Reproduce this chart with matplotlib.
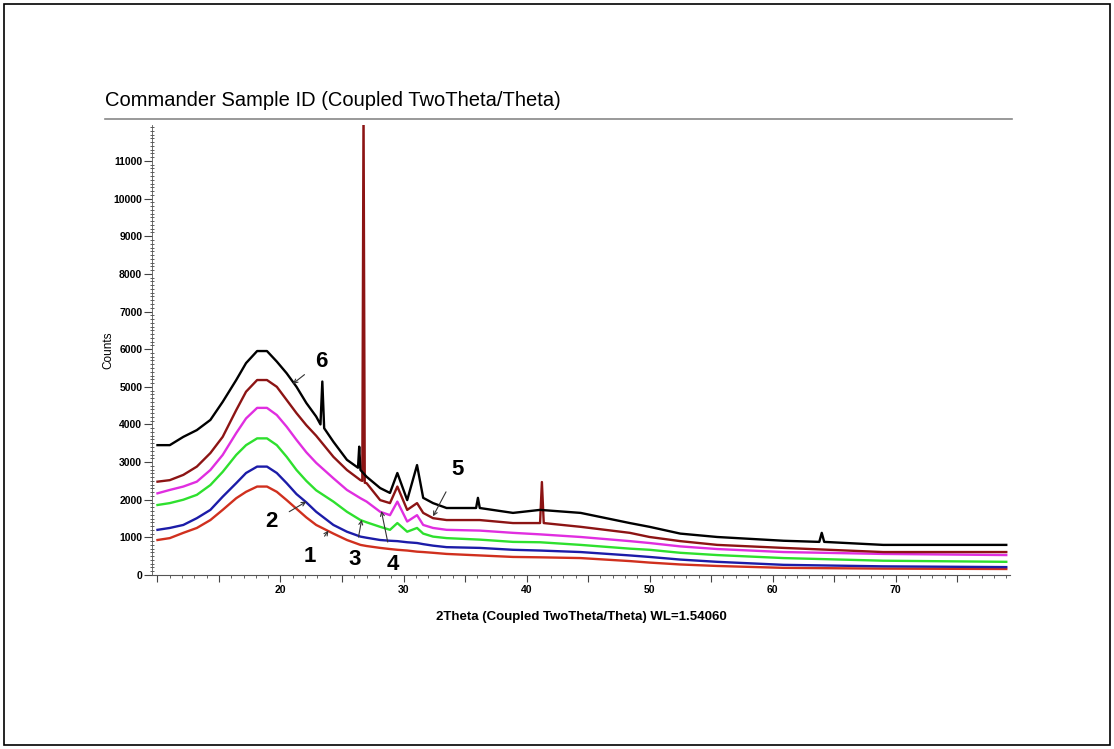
import numpy as np
import matplotlib
matplotlib.use('Agg')
import matplotlib.pyplot as plt
from matplotlib.ticker import MultipleLocator, FuncFormatter
from matplotlib.patches import Rectangle

plt.rcParams['font.family'] = ['Liberation Sans', 'DejaVu Sans']

# 2theta grid shared by all six scans
two_theta = [10, 11, 12.1, 13.2, 14.3, 15.3, 16.4, 17.2, 18.1, 18.9, 19.7, 20.5, 21.3, 22.1,
             22.9, 24.3, 25.4, 26.5, 27.0, 28.1, 28.9, 29.5, 30.3, 31.1, 31.6, 32.4, 33.5,
             36.2, 38.9, 41.1, 44.4, 48.4, 50, 52.5, 55.5, 60.9, 69, 79]

counts_1 = [930, 980, 1120, 1250, 1460, 1730, 2040, 2210, 2350, 2350, 2210, 1990, 1760, 1530,
            1330, 1100, 930, 800, 770, 720, 690, 670, 650, 620, 610, 590, 560,
            520, 480, 470, 450, 370, 330, 280, 240, 190, 170, 160]
counts_2 = [1200, 1250, 1330, 1510, 1730, 2080, 2440, 2710, 2880, 2880, 2710, 2440, 2150, 1930,
            1680, 1330, 1150, 1020, 990, 930, 910, 900, 870, 850, 820, 780, 740,
            720, 670, 650, 610, 520, 480, 410, 350, 270, 230, 210]
counts_3 = [1860, 1910, 2000, 2130, 2390, 2740, 3190, 3450, 3630, 3630, 3450, 3140, 2790, 2500,
            2250, 1950, 1680, 1460, 1400, 1280, 1200, 1380, 1150, 1250, 1100, 1020, 980,
            940, 880, 870, 800, 700, 670, 590, 530, 450, 380, 350]
counts_4 = [2170, 2260, 2350, 2480, 2790, 3190, 3770, 4160, 4440, 4440, 4250, 3940, 3590, 3260,
            2980, 2570, 2260, 2040, 1950, 1680, 1590, 1950, 1420, 1590, 1330, 1250, 1200,
            1180, 1120, 1080, 1010, 900, 850, 760, 690, 610, 560, 530]
counts_5 = [2480, 2520, 2660, 2880, 3240, 3670, 4380, 4870, 5180, 5180, 5000, 4650, 4300, 3980,
            3700, 3140, 2790, 2520, 2440, 1990, 1910, 2350, 1730, 1910, 1650, 1510, 1460,
            1460, 1380, 1380, 1280, 1120, 1010, 900, 800, 720, 610, 610]
counts_6 = [3450, 3450, 3670, 3850, 4120, 4600, 5180, 5630, 5950, 5950, 5670, 5360, 5000, 4570,
            4210, 3540, 3060, 2790, 2610, 2310, 2180, 2710, 1990, 2920, 2050, 1910, 1780,
            1780, 1650, 1730, 1650, 1380, 1280, 1100, 1010, 910, 800, 800]

# sharp reflections (extra points merged into the scans)
peaks_5_x = [26.65, 26.75, 26.85, 41.25, 41.4]
peaks_5_y = [2500, 12500, 2450, 2470, 1380]
peaks_6_x = [23.25, 23.4, 23.55, 26.3, 26.4, 35.9, 36.05, 63.8, 64.0, 64.2]
peaks_6_y = [4000, 5140, 3900, 2850, 3410, 1780, 2050, 880, 1120, 880]

colors = ['#d0301e', '#1c1ca8', '#2ee02e', '#e02ee0', '#8c1414', '#000000']
labels = ['1', '2', '3', '4', '5', '6']
label_text = [(22.4, 480), (19.3, 1410), (26.0, 400), (29.1, 270), (34.4, 2790), (23.3, 5670)]
label_tip = [(23.9, 1180), (22.1, 1950), (26.6, 1470), (28.2, 1700), (32.4, 1560), (21.0, 5080)]

fig = plt.figure(figsize=(11.14, 7.49), dpi=100)
ax = fig.add_axes([0.1364, 0.2323, 0.7702, 0.6008])

series = [(counts_1, [], []), (counts_2, [], []), (counts_3, [], []), (counts_4, [], []),
          (counts_5, peaks_5_x, peaks_5_y), (counts_6, peaks_6_x, peaks_6_y)]
for (ys, px, py), c in zip(series, colors):
    x = np.array(two_theta + px, dtype=float)
    y = np.array(ys + py, dtype=float)
    order = np.argsort(x)
    ax.plot(x[order], y[order], color=c, lw=1.7)

for lab, t, tip in zip(labels, label_text, label_tip):
    ax.annotate(lab, xy=tip, xytext=t, fontsize=16, fontweight='bold', ha='center', va='center',
                arrowprops=dict(arrowstyle='->', color='#333333', lw=0.8, shrinkA=7, shrinkB=0,
                                mutation_scale=7))

ax.set_xlim(9.55, 79.3)
ax.set_ylim(0, 11955)
for s in ['top', 'right']:
    ax.spines[s].set_visible(False)
ax.spines['left'].set_color('#555555')
ax.spines['bottom'].set_color('#555555')
ax.spines['left'].set_linewidth(0.6)
ax.spines['bottom'].set_linewidth(0.8)

ax.xaxis.set_major_locator(MultipleLocator(5))
ax.xaxis.set_minor_locator(MultipleLocator(1))
ax.xaxis.set_major_formatter(FuncFormatter(lambda v, p: '%d' % v if v % 10 == 0 and v >= 20 else ''))
ax.yaxis.set_major_locator(MultipleLocator(1000))
ax.yaxis.set_minor_locator(MultipleLocator(100))
ax.tick_params(axis='x', which='major', length=5, width=0.8, labelsize=7.5, color='#444444', pad=2)
ax.tick_params(axis='x', which='minor', length=2.5, width=0.6, color='#444444')
ax.tick_params(axis='y', which='major', length=6, width=0.8, labelsize=7.5, color='#444444', pad=1)
ax.tick_params(axis='y', which='minor', length=2.5, width=0.6, color='#444444', direction='inout')
for lbl in ax.get_xticklabels() + ax.get_yticklabels():
    lbl.set_fontweight('bold')

ax.set_ylabel('Counts', fontsize=8.5, labelpad=-1)
ax.set_xlabel('2Theta (Coupled TwoTheta/Theta) WL=1.54060', fontsize=9.5, fontweight='bold',
              labelpad=12)

fig.text(105 / 1114, 1 - 101 / 749, 'Commander Sample ID (Coupled TwoTheta/Theta)',
         fontsize=14.5, va='center', ha='left')
fig.add_artist(plt.Line2D([105 / 1114, 1012 / 1114], [1 - 119 / 749, 1 - 119 / 749],
                          color='#888888', lw=1.2))
fig.add_artist(Rectangle((4 / 1114, 4 / 749), 1106 / 1114, 741 / 749, fill=False,
                         edgecolor='black', lw=1.2, transform=fig.transFigure))

fig.savefig('out.png', dpi=100)
